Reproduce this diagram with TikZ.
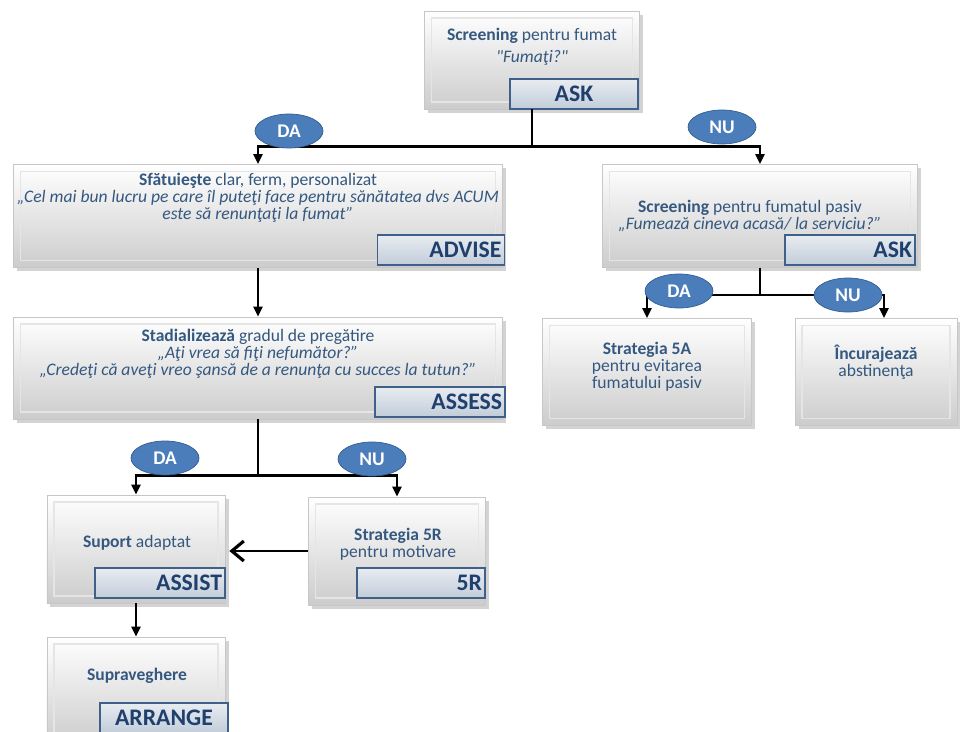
\documentclass[tikz,border=0pt]{standalone}
\usepackage{fontspec}
\setmainfont{Carlito}
\newfontfamily\rawquote{Carlito}[Ligatures=ResetAll]
\usepackage{tikz}
\usetikzlibrary{arrows.meta,positioning,shapes.geometric,shadows}

\definecolor{txtblue}{HTML}{34587F}
\definecolor{tagblue}{HTML}{1F3F6C}
\definecolor{tagedge}{HTML}{3F6189}
\definecolor{ovalblue}{HTML}{4A7DBA}
\definecolor{ovaledge}{HTML}{345E90}

\begin{document}
\begin{tikzpicture}[x=0.2mm,y=-0.2mm,
  stepbox/.style={rectangle,draw=black!22,top color=white,bottom color=black!20,
    drop shadow={shadow xshift=0.7mm,shadow yshift=-0.7mm,opacity=0.35},
    path picture={\draw[black!10,line width=0.6pt]
      ([shift={(1.4mm,-1.4mm)}]path picture bounding box.north west) rectangle
      ([shift={(-1.4mm,1.4mm)}]path picture bounding box.south east);}},
  boxtext/.style={align=center,text=txtblue,font=\fontsize{10}{9.6}\selectfont,inner sep=0pt},
  tag/.style={rectangle,draw=tagedge,line width=0.9pt,top color=tagedge!12,bottom color=tagedge!32,
    text=tagblue,font=\fontsize{13.5}{13.5}\selectfont\bfseries,align=right,inner sep=0.6mm,
    minimum height=6mm},
  answer/.style={ellipse,draw=ovaledge,fill=ovalblue,text=white,
    font=\fontsize{11}{11}\selectfont\bfseries,minimum width=13.6mm,minimum height=6.8mm,inner sep=0pt},
  conn/.style={line width=1.5pt,black},
  arr/.style={conn,-{Triangle[length=2mm,width=1.8mm]}}
]
\useasboundingbox (0,0) rectangle (960,731);

% Boxes
\node[stepbox,minimum width=43mm,minimum height=19.6mm] (top) at (532,60) {};
\node[stepbox,minimum width=97.8mm,minimum height=20.6mm] (advise) at (258,216) {};
\node[stepbox,minimum width=63mm,minimum height=20.6mm] (passive) at (760,216) {};
\node[stepbox,minimum width=97.8mm,minimum height=20.4mm] (assess) at (258,368) {};
\node[stepbox,minimum width=41.8mm,minimum height=21.4mm] (s5a) at (647,372) {};
\node[stepbox,minimum width=32.4mm,minimum height=21.4mm] (incur) at (876,372) {};
\node[stepbox,minimum width=35.6mm,minimum height=21.6mm] (suport) at (136,549) {};
\node[stepbox,minimum width=35.4mm,minimum height=21.6mm] (s5r) at (397,551) {};
\node[stepbox,minimum width=35.6mm,minimum height=21.6mm] (arrange) at (136,691) {};

% Texts
\node[boxtext] (toptext) at (532,47) {\textbf{Screening} pentru fumat\\[3pt] \textit{{\rawquote"}Fumaţi?{\rawquote"}}};
\node[boxtext] (advisetext) at (258,198) {\textbf{Sfătuieşte} clar, ferm, personalizat\\
  \textit{„Cel mai bun lucru pe care îl puteţi face pentru sănătatea dvs ACUM}\\
  \textit{este să renunţaţi la fumat”}};
\node[boxtext] (passivetext) at (750,216) {\textbf{Screening} pentru fumatul pasiv\\
  \textit{„Fumează cineva acasă/ la serviciu?”}};
\node[boxtext] (assesstext) at (258,354) {\textbf{Stadializează} gradul de pregătire\\
  \textit{„Aţi vrea să fiţi nefumător?”}\\
  \textit{„Credeţi că aveţi vreo şansă de a renunţa cu succes la tutun?”}};
\node[boxtext] (s5atext) at (647,367) {\textbf{Strategia 5A}\\ pentru evitarea\\ fumatului pasiv};
\node[boxtext] (incurtext) at (876,362) {\textbf{Încurajează}\\ abstinenţa};
\node[boxtext] (suporttext) at (137,543) {\textbf{Suport} adaptat};
\node[boxtext] (s5rtext) at (398,544) {\textbf{Strategia 5R}\\ pentru motivare};
\node[boxtext] (arrangetext) at (137,676) {\textbf{Supraveghere}};

% Tags
\node[tag,text width=24.4mm,align=center] (asktop) at (574,94) {ASK};
\node[tag,text width=24.2mm] (advisetag) at (441,250) {ADVISE};
\node[tag,text width=24.8mm] (askpassive) at (850,250) {ASK};
\node[tag,text width=24.8mm] (assesstag) at (440,402) {ASSESS};
\node[tag,text width=24.8mm] (assisttag) at (160,583) {ASSIST};
\node[tag,text width=24.4mm] (fivertag) at (421,583) {5R};
\node[tag,text width=24.4mm,align=center] (arrangetag) at (164,718) {ARRANGE};

% Connectors
\draw[conn] (top.south) -- ++(0,37) coordinate (split1);
\draw[arr] (split1) -| (advise.north);
\draw[arr] (split1) -| (passive.north);
\draw[arr] (advise.south) -- (assess.north);
\draw[conn] (passive.south) -- ++(0,27) coordinate (split2);
\draw[arr] (split2) -| (s5a.north);
\draw[arr] (split2) -| ([xshift=1.6mm]incur.north);
\draw[conn] (assess.south) -- ++(0,56) coordinate (split3);
\draw[arr] (split3) -| (suport.north);
\draw[arr] (split3) -| (s5r.north);
\draw[conn,-{Straight Barb[length=2.4mm,width=4mm,line width=1.8pt]},shorten >=0.8mm] (s5r.west) -- (s5r.west -| suport.east);
\draw[arr] (suport.south) -- (arrange.north);

% Answers
\node[answer] (da1) at (289,131) {DA};
\node[answer] (nu1) at (722,127) {NU};
\node[answer] (da2) at (679,291) {DA};
\node[answer] (nu2) at (848,295) {NU};
\node[answer] (da3) at (165,458) {DA};
\node[answer] (nu3) at (372,459) {NU};
\end{tikzpicture}
\end{document}
